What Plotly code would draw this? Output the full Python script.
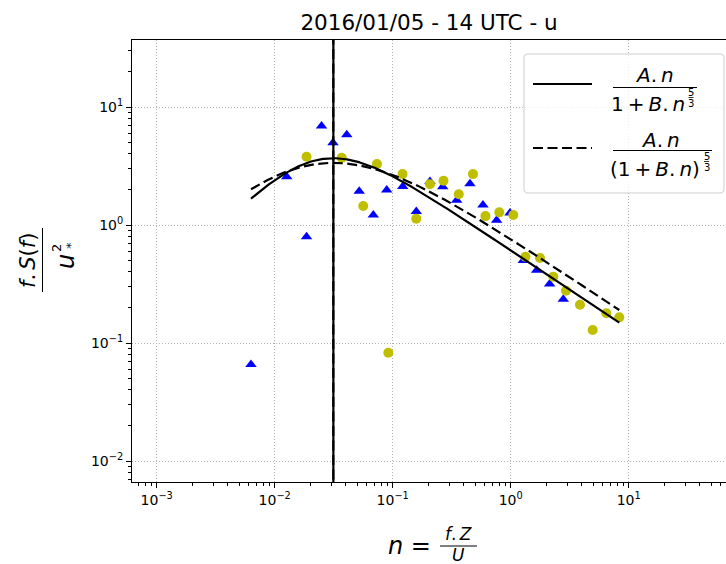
import numpy as np
import plotly.graph_objects as go

TITLE = "2016/01/05 - 14 UTC - u"

# normalised frequency n and normalised spectrum f.S(f)/u*^2, first record (blue triangles)
n_tri = [0.0063, 0.01265, 0.01861, 0.02494, 0.0312, 0.0408, 0.0520, 0.0685, 0.0890,
         0.1216, 0.1585, 0.207, 0.2655, 0.3487, 0.4518, 0.582, 0.760, 0.9865,
         1.279, 1.660, 2.137, 2.791]
s_tri = [0.0657, 2.57, 0.796, 6.90, 4.97, 5.82, 1.93, 1.215, 1.98,
         2.12, 1.30, 2.34, 2.11, 1.62, 2.24, 1.477, 1.10, 1.264,
         0.500, 0.413, 0.316, 0.2346]

# second record (yellow circles)
n_circ = [0.01861, 0.03697, 0.0563, 0.0735, 0.0918, 0.1211, 0.1585, 0.207, 0.2694,
          0.363, 0.479, 0.611, 0.800, 1.052, 1.334, 1.771, 2.296, 2.942,
          3.865, 4.95, 6.46, 8.32]
s_circ = [3.79, 3.72, 1.45, 3.29, 0.0828, 2.70, 1.13, 2.22, 2.37,
          1.82, 2.70, 1.19, 1.28, 1.215, 0.539, 0.525, 0.365, 0.2775,
          0.211, 0.129, 0.1786, 0.165]

# fitted spectral models: A.n/(1+B.n^(5/3)) and A.n/(1+B.n)^(5/3)
A_kai, B_kai = 293.0, 479.5
A_vk, B_vk = 494.0, 47.8

x_tick_vals = [1e-3, 1e-2, 1e-1, 1e0, 1e1]
x_tick_text = ["10<sup>−3</sup>", "10<sup>−2</sup>", "10<sup>−1</sup>", "10<sup>0</sup>", "10<sup>1</sup>"]
y_tick_vals = [1e-2, 1e-1, 1e0, 1e1]
y_tick_text = ["10<sup>−2</sup>", "10<sup>−1</sup>", "10<sup>0</sup>", "10<sup>1</sup>"]

W, H = 726, 564
ML, MR, MT, MB = 132, 0, 40, 82
PW, PH = W - ML - MR, H - MT - MB
FONT = "DejaVu Sans"
TS = "\u2009"  # thin space used after the dot in products


def px(x):
    return (x - ML) / PW


def py(y):
    return (H - MB - y) / PH


n_all = n_tri + n_circ
n_fit = np.logspace(np.log10(min(n_all)), np.log10(max(n_all)), 400)
s_kai = A_kai * n_fit / (1 + B_kai * n_fit ** (5 / 3))
s_vk = A_vk * n_fit / (1 + B_vk * n_fit) ** (5 / 3)
n_peak_kai = (1.5 / B_kai) ** 0.6
n_peak_vk = 1.5 / B_vk

DASH = "10px,4.5px"
LW = 2.2

fig = go.Figure()
fig.add_trace(go.Scatter(x=n_tri, y=s_tri, mode="markers",
                         marker=dict(symbol="triangle-up", size=10, color="#0000ff",
                                     line=dict(width=0))))
fig.add_trace(go.Scatter(x=n_circ, y=s_circ, mode="markers",
                         marker=dict(symbol="circle", size=10, color="#bfbf00",
                                     line=dict(width=0))))
fig.add_trace(go.Scatter(x=n_fit, y=s_kai, mode="lines",
                         line=dict(color="black", width=LW)))
fig.add_trace(go.Scatter(x=n_fit, y=s_vk, mode="lines",
                         line=dict(color="black", width=LW, dash=DASH)))
fig.add_trace(go.Scatter(x=[n_peak_kai, n_peak_kai], y=[1e-4, 1e3], mode="lines",
                         line=dict(color="black", width=LW)))
fig.add_trace(go.Scatter(x=[n_peak_vk, n_peak_vk], y=[1e-4, 1e3], mode="lines",
                         line=dict(color="black", width=LW, dash=DASH)))


def minor_vals(e0, e1):
    return [k * 10.0 ** e for e in range(e0, e1) for k in range(2, 10)]


axis_common = dict(
    type="log", ticks="outside", ticklen=5, tickwidth=1, tickcolor="black",
    showline=True, linecolor="black", linewidth=1,
    showgrid=True, gridcolor="#b0b0b0", griddash="1px,2px", gridwidth=1,
    zeroline=False, tickfont=dict(family=FONT, size=14, color="black"),
)
fig.update_xaxes(range=[-3.2093, 1.8246], tickvals=x_tick_vals, ticktext=x_tick_text,
                 mirror=True,
                 minor=dict(tickvals=minor_vals(-4, 2), ticks="outside", ticklen=3,
                            tickcolor="black", showgrid=False),
                 **axis_common)
fig.update_yaxes(range=[-2.178, 1.568], tickvals=y_tick_vals, ticktext=y_tick_text,
                 mirror=False,
                 minor=dict(tickvals=minor_vals(-3, 2), ticks="outside", ticklen=3,
                            tickcolor="black", showgrid=False),
                 **axis_common)

shapes = []
annotations = []


def rounded_rect(x0, y0, x1, y1, r):
    pts = [
        ("M", [(x0 + r, y0)]), ("L", [(x1 - r, y0)]), ("Q", [(x1, y0), (x1, y0 + r)]),
        ("L", [(x1, y1 - r)]), ("Q", [(x1, y1), (x1 - r, y1)]), ("L", [(x0 + r, y1)]),
        ("Q", [(x0, y1), (x0, y1 - r)]), ("L", [(x0, y0 + r)]), ("Q", [(x0, y0), (x0 + r, y0)]),
    ]
    out = []
    for cmd, coords in pts:
        out.append(cmd + " " + " ".join(f"{px(a):.5f},{py(b):.5f}" for a, b in coords))
    return " ".join(out) + " Z"


# legend frame
shapes.append(dict(type="path", xref="paper", yref="paper",
                   path=rounded_rect(524, 54, 724, 193, 4),
                   fillcolor="rgba(255,255,255,0.8)", line=dict(color="#cccccc", width=1)))
# legend handles
shapes.append(dict(type="line", xref="paper", yref="paper", x0=px(533), x1=px(592),
                   y0=py(84), y1=py(84), line=dict(color="black", width=LW)))
shapes.append(dict(type="line", xref="paper", yref="paper", x0=px(533), x1=px(592),
                   y0=py(148), y1=py(148), line=dict(color="black", width=LW, dash=DASH)))


def hbar(x0, x1, y, w=1):
    shapes.append(dict(type="line", xref="paper", yref="paper", x0=px(x0), x1=px(x1),
                       y0=py(y), y1=py(y), line=dict(color="black", width=w)))


def vbar(x, y0, y1, w=1):
    shapes.append(dict(type="line", xref="paper", yref="paper", x0=px(x), x1=px(x),
                       y0=py(y0), y1=py(y1), line=dict(color="black", width=w)))


def text(t, x, y, size, xanchor="center", angle=0):
    annotations.append(dict(text=t, x=px(x), y=py(y), xref="paper", yref="paper",
                            xanchor=xanchor, yanchor="middle", showarrow=False,
                            textangle=angle,
                            font=dict(family=FONT, size=size, color="black")))


# legend labels
text(f"<i>A</i>.{TS}<i>n</i>", 654, 75, 20)
hbar(613, 697, 87.5)
text(f"1{TS}+{TS}<i>B</i>.{TS}<i>n</i>", 687, 104, 20, xanchor="right")
text("5", 691, 92, 10)
hbar(688.5, 693.5, 97.5, 0.8)
text("3", 691, 103, 10)

text(f"<i>A</i>.{TS}<i>n</i>", 660, 139.5, 20)
hbar(613, 712, 150.5)
text(f"(1{TS}+{TS}<i>B</i>.{TS}<i>n</i>)", 702, 169, 20, xanchor="right")
text("5", 706.5, 156, 10)
hbar(704, 709, 161.5, 0.8)
text("3", 706.5, 167, 10)

# x-axis label
text("<i>n</i> =", 433, 546, 24, xanchor="right")
text(f"<i>f</i>.{TS}<i>Z</i>", 458, 534, 17)
hbar(440, 477, 546)
text("<i>U</i>", 458, 555, 17)

# y-axis label
text(f"<i>f</i>.{TS}<i>S</i>(<i>f</i>)", 28, 261, 21, angle=-90)
vbar(42.5, 228, 292)
text("<i>u</i>", 66, 262, 24, angle=-90)
text("2", 56, 248, 13, angle=-90)
text("*", 70, 246, 13, angle=-90)

fig.update_layout(
    width=W, height=H,
    margin=dict(l=ML, r=MR, t=MT, b=MB),
    plot_bgcolor="white", paper_bgcolor="white",
    font=dict(family=FONT, color="black"),
    showlegend=False,
    title=dict(text=TITLE, x=0.5, xref="paper", xanchor="center",
               y=1 - 22 / H, yref="container", yanchor="middle",
               font=dict(family=FONT, size=21.5, color="black")),
    shapes=shapes, annotations=annotations,
)

fig.write_html("out.html")
